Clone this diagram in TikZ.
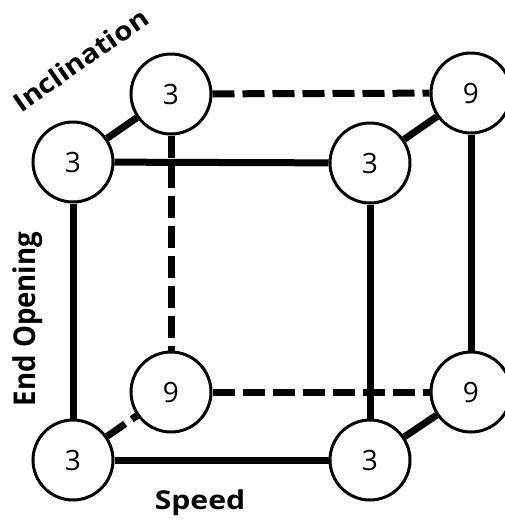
\documentclass[tikz,border=0pt]{standalone}
\usepackage{fontspec}
\setmainfont{Open Sans}
\begin{document}
\begin{tikzpicture}[x=1pt,y=-1pt,
  vertex/.style={circle,draw,line width=3pt,fill=white,minimum size=80pt,inner sep=0pt,
    font=\fontsize{28}{28}\selectfont},
  edge/.style={line width=7pt},
  hidden/.style={line width=7pt,dash pattern=on 22pt off 8pt},
  axislabel/.style={font=\bfseries\fontsize{26}{26}\selectfont,anchor=base}]
\useasboundingbox (0,0) rectangle (504,520);

% front face
\node[vertex] (ftl) at (73,162) {3};
\node[vertex] (ftr) at (370,163) {3};
\node[vertex] (fbl) at (73,460) {3};
\node[vertex] (fbr) at (370,460) {3};
% back face
\node[vertex] (btl) at (171,94) {3};
\node[vertex] (btr) at (471,93) {9};
\node[vertex] (bbl) at (171,392) {9};
\node[vertex] (bbr) at (471,392) {9};

% hidden edges
\draw[hidden] (btl) -- (btr);
\draw[hidden] (btl) -- (bbl);
\draw[hidden] (bbl) -- (bbr);
\draw[hidden] (fbl) -- (bbl);

% visible edges
\draw[edge] (btr) -- (bbr);
\draw[edge] (ftl) -- (ftr);
\draw[edge] (ftl) -- (fbl);
\draw[edge] (ftr) -- (fbr);
\draw[edge] (fbl) -- (fbr);
\draw[edge] (ftl) -- (btl);
\draw[edge] (ftr) -- (btr);
\draw[edge] (fbr) -- (bbr);

% axis labels, each stretched along its own baseline
\node[axislabel,rotate=35] (incl) at (86,68) {\scalebox{1.13}[1]{Inclination}};
\node[axislabel,font=\bfseries\fontsize{30}{30}\selectfont,rotate=90] (endo) at (35,319) {\scalebox{0.92}[1]{End Opening}};
\node[axislabel] (speed) at (200,509) {\scalebox{1.16}[1]{Speed}};
\end{tikzpicture}
\end{document}
